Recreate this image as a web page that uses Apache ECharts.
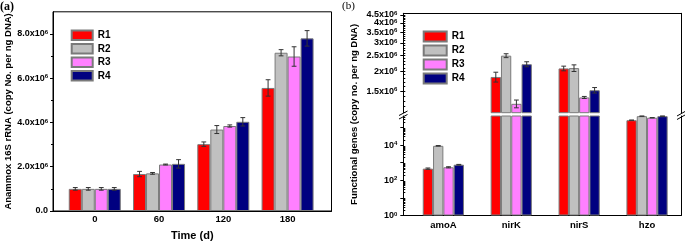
<!DOCTYPE html>
<html><head><meta charset="utf-8">
<script src="https://cdn.jsdelivr.net/npm/echarts@6/dist/echarts.min.js"></script>
<style>html,body{margin:0;padding:0;background:#fff}#c{width:685px;height:246px}</style>
</head><body><div id="c"></div>
<script>
// ---------- data: panel (a) ----------
const days = [0, 60, 120, 180];
const seriesNames = ['R1', 'R2', 'R3', 'R4'];
const anamR1 = [1.0e6, 1.67e6, 3.02e6, 5.56e6];
const anamR2 = [1.0e6, 1.70e6, 3.68e6, 7.15e6];
const anamR3 = [1.0e6, 2.10e6, 3.84e6, 6.98e6];
const anamR4 = [1.0e6, 2.13e6, 4.03e6, 7.80e6];
const anamErrR1 = [0.06e6, 0.12e6, 0.10e6, 0.37e6];
const anamErrR2 = [0.06e6, 0.04e6, 0.18e6, 0.14e6];
const anamErrR3 = [0.06e6, 0.02e6, 0.05e6, 0.44e6];
const anamErrR4 = [0.06e6, 0.19e6, 0.19e6, 0.35e6];
const anamTicks = [0, 2e6, 4e6, 6e6, 8e6];

// ---------- data: panel (b) ----------
const genes = ['amoA', 'nirK', 'nirS', 'hzo'];
const geneR1 = [460, 1.84e6, 2.08e6, 2.6e5];
const geneR2 = [9.1e3, 2.50e6, 2.09e6, 4.4e5];
const geneR3 = [550, 1.25e6, 1.37e6, 3.6e5];
const geneR4 = [770, 2.21e6, 1.52e6, 4.4e5];
const geneErrR1 = [40, 0.13e6, 0.07e6, 0];
const geneErrR2 = [300, 0.07e6, 0.10e6, 5e3];
const geneErrR3 = [40, 0.07e6, 0.02e6, 0];
const geneErrR4 = [30, 0.08e6, 0.06e6, 0];
const upperTicks = [1.5e6, 2e6, 2.5e6, 3e6, 3.5e6, 4e6, 4.5e6];
const lowerLabelTicks = [1, 100, 10000];
const lowerTicks = [1, 10, 100, 1000, 10000, 100000];

// ---------- styling / layout ----------
const F = 'Liberation Sans, Arial, sans-serif';
const colors = ['#ff0000', '#c0c0c0', '#ff80ff', '#000080'];
const borderCol = '#7a7a7a';
const lowerMin = 1, lowerMax = 4.5e5, upperMin = 1.1e6, upperMax = 4.6e6;
const barWA = 13, barWB = 10.3;

const upperMinor = [];
for (let k = 11; k <= 46; k++) upperMinor.push(k * 1e5);
const lowerMinor = [];
for (let e = 0; e <= 5; e++) for (let k = 2; k <= 9; k++) { const v = k * Math.pow(10, e); if (v <= lowerMax) lowerMinor.push(v); }

const rich = {
  n: { fontFamily: F, fontWeight: 'bold', fontSize: 9, color: '#000' },
  s: { fontFamily: F, fontWeight: 'bold', fontSize: 6, color: '#000', verticalAlign: 'top' }
};
const sup = (base, exp) => '{n|' + base + '}{s|' + exp + '}';
const trimNum = v => String(Math.round(v * 10) / 10);

const anamVals = [anamR1, anamR2, anamR3, anamR4];
const anamErrs = [anamErrR1, anamErrR2, anamErrR3, anamErrR4];
const geneVals = [geneR1, geneR2, geneR3, geneR4];
const geneErrs = [geneErrR1, geneErrR2, geneErrR3, geneErrR4];

function errSeries(points, xi, yi, k, barW) {
  return {
    type: 'custom', xAxisIndex: xi, yAxisIndex: yi, silent: true, z: 10,
    data: points,
    renderItem(params, api) {
      const x = api.value(0), v = api.value(1), e = api.value(2);
      const c0 = api.coord([x, v]);
      const cx = c0[0] + (k - 1.5) * barW;
      const top = api.coord([x, v + e])[1];
      const bot = api.coord([x, v - e])[1];
      const cap = 2.4;
      const st = { stroke: '#333', lineWidth: 1 };
      return { type: 'group', children: [
        { type: 'line', shape: { x1: cx, y1: top, x2: cx, y2: bot }, style: st },
        { type: 'line', shape: { x1: cx - cap, y1: top, x2: cx + cap, y2: top }, style: st },
        { type: 'line', shape: { x1: cx - cap, y1: bot, x2: cx + cap, y2: bot }, style: st }
      ] };
    }
  };
}

const series = [];
// panel (a)
seriesNames.forEach((nm, k) => {
  series.push({
    type: 'bar', name: nm, xAxisIndex: 0, yAxisIndex: 0,
    barWidth: barWA, barGap: '0%',
    itemStyle: { color: colors[k], borderColor: borderCol, borderWidth: 1 },
    data: days.map((d, i) => [d, anamVals[k][i]])
  });
});
seriesNames.forEach((nm, k) => {
  series.push(errSeries(days.map((d, i) => [d, anamVals[k][i], anamErrs[k][i]]), 0, 0, k, barWA));
});
// panel (b) lower (log, clipped) and upper (log) segments
seriesNames.forEach((nm, k) => {
  series.push({
    type: 'bar', name: nm, xAxisIndex: 1, yAxisIndex: 1, clip: true,
    barWidth: barWB, barGap: '0%',
    itemStyle: { color: colors[k], borderColor: borderCol, borderWidth: 1 },
    data: genes.map((g, i) => [i, geneVals[k][i]])
  });
  series.push({
    type: 'bar', name: nm, xAxisIndex: 2, yAxisIndex: 2, clip: true,
    barWidth: barWB, barGap: '0%',
    itemStyle: { color: colors[k], borderColor: borderCol, borderWidth: 1 },
    data: genes.map((g, i) => [i, geneVals[k][i] > lowerMax ? geneVals[k][i] : '-'])
  });
});
seriesNames.forEach((nm, k) => {
  const low = [], up = [];
  genes.forEach((g, i) => {
    const p = [i, geneVals[k][i], geneErrs[k][i]];
    if (geneVals[k][i] > lowerMax) up.push(p); else low.push(p);
  });
  series.push(errSeries(low, 1, 1, k, barWB));
  series.push(errSeries(up, 2, 2, k, barWB));
});

const blackLine = { show: true, onZero: false, lineStyle: { color: '#000', width: 1 } };
const noLine = { show: false, onZero: false };
const hidden = { show: false };

const option = {
  animation: false,
  backgroundColor: '#fff',
  grid: [
    { left: 53, top: 11.8, width: 278.5, height: 202.5, show: true, borderColor: '#000', borderWidth: 1 },
    { left: 403.3, top: 116, width: 277.7, height: 99.5 },
    { left: 403.3, top: 13.3, width: 277.7, height: 99.4 },
    { left: 403.3, top: 13.3, width: 277.7, height: 202.2 }
  ],
  xAxis: [
    { gridIndex: 0, type: 'value', min: -39, max: 221, position: 'bottom',
      axisLine: blackLine, axisTick: hidden, splitLine: hidden,
      axisLabel: { customValues: days, formatter: v => String(v), margin: 3,
        fontFamily: F, fontWeight: 'bold', fontSize: 9.5, color: '#000' },
      name: 'Time (d)', nameLocation: 'middle', nameGap: 19,
      nameTextStyle: { fontFamily: F, fontWeight: 'bold', fontSize: 11, color: '#000' } },
    { gridIndex: 1, type: 'value', min: -0.59, max: 3.5, position: 'bottom',
      axisLine: blackLine, axisTick: hidden, splitLine: hidden,
      axisLabel: { customValues: [0, 1, 2, 3], formatter: v => genes[Math.round(v)], margin: 5,
        fontFamily: F, fontWeight: 'bold', fontSize: 9.5, color: '#000' } },
    { gridIndex: 2, type: 'value', min: -0.59, max: 3.5, position: 'top',
      axisLine: blackLine, axisTick: hidden, splitLine: hidden, axisLabel: hidden },
    { gridIndex: 3, type: 'value', min: 0, max: 1, show: false }
  ],
  yAxis: [
    { gridIndex: 0, type: 'value', min: 0, max: 9e6, interval: 2e6, position: 'left',
      axisLine: blackLine,
      axisTick: { show: true, length: 3, customValues: anamTicks, lineStyle: { color: '#000' } },
      minorTick: { show: true, splitNumber: 2, length: 2, lineStyle: { color: '#000' } },
      splitLine: hidden,
      axisLabel: { customValues: anamTicks, margin: 5, rich: rich, showMinLabel: true, showMaxLabel: true,
        formatter: v => v === 0 ? '{n|0.0}' : sup((v / 1e6).toFixed(1) + 'x10', '6') },
      name: 'Anammox 16S rRNA (copy No. per ng DNA)', nameLocation: 'middle', nameGap: 36,
      nameTextStyle: { fontFamily: F, fontWeight: 'bold', fontSize: 9.5, color: '#000' } },
    { gridIndex: 1, type: 'log', logBase: 10, min: lowerMin, max: lowerMax, position: 'left',
      axisLine: blackLine,
      axisTick: { show: true, length: 3, customValues: lowerTicks, lineStyle: { color: '#000' } },
      splitLine: hidden,
      axisLabel: { customValues: lowerLabelTicks, margin: 6, rich: rich, showMinLabel: true, showMaxLabel: true,
        formatter: v => sup('10', String(Math.round(Math.log10(v)))) } },
    { gridIndex: 2, type: 'log', logBase: 10, min: upperMin, max: upperMax, position: 'left',
      axisLine: blackLine,
      axisTick: { show: true, length: 3, customValues: upperTicks, lineStyle: { color: '#000' } },
      splitLine: hidden,
      axisLabel: { customValues: upperTicks.concat([upperMax]), margin: 6, rich: rich,
        showMinLabel: true, showMaxLabel: false, hideOverlap: false,
        formatter: v => upperTicks.indexOf(v) < 0 ? '' : sup(trimNum(v / 1e6) + 'x10', '6') } },
    { gridIndex: 1, type: 'log', logBase: 10, min: lowerMin, max: lowerMax, position: 'left',
      axisLine: noLine, axisLabel: hidden, splitLine: hidden,
      axisTick: { show: true, inside: true, length: 2, customValues: lowerMinor, lineStyle: { color: '#000' } } },
    { gridIndex: 2, type: 'log', logBase: 10, min: upperMin, max: upperMax, position: 'left',
      axisLine: noLine, axisLabel: hidden, splitLine: hidden,
      axisTick: { show: true, inside: true, length: 2, customValues: upperMinor, lineStyle: { color: '#000' } } },
    { gridIndex: 1, type: 'value', min: 0, max: 1, position: 'right',
      axisLine: blackLine, axisTick: hidden, axisLabel: hidden, splitLine: hidden },
    { gridIndex: 2, type: 'value', min: 0, max: 1, position: 'right',
      axisLine: blackLine, axisTick: hidden, axisLabel: hidden, splitLine: hidden },
    { gridIndex: 3, type: 'value', min: 0, max: 1, position: 'left',
      axisLine: noLine, axisTick: hidden, axisLabel: hidden, splitLine: hidden,
      name: 'Functional genes (copy no. per ng DNA)', nameLocation: 'middle', nameGap: 44,
      nameTextStyle: { fontFamily: F, fontWeight: 'bold', fontSize: 9.5, color: '#000' } }
  ],
  legend: [
    { orient: 'vertical', left: 70.7, top: 29.5, padding: 0, itemWidth: 21, itemHeight: 9.5, itemGap: 2,
      icon: 'rect', selectedMode: false, data: seriesNames,
      textStyle: { fontFamily: F, fontWeight: 'bold', fontSize: 10, color: '#000' } },
    { orient: 'vertical', left: 422.7, top: 30.5, padding: 0, itemWidth: 23, itemHeight: 10, itemGap: 2,
      icon: 'rect', selectedMode: false, data: seriesNames,
      textStyle: { fontFamily: F, fontWeight: 'bold', fontSize: 10, color: '#000' } }
  ],
  graphic: [
    { type: 'text', left: 0, top: 1, style: { text: '(a)', font: 'bold 12px "Liberation Serif", serif', fill: '#000' } },
    { type: 'text', left: 342, top: 1, style: { text: '(b)', font: '11px "Liberation Serif", serif', fill: '#000' } },
    { type: 'line', shape: { x1: 399, y1: 115.5, x2: 407.5, y2: 111 }, style: { stroke: '#000', lineWidth: 1 } },
    { type: 'line', shape: { x1: 399, y1: 119, x2: 407.5, y2: 114.5 }, style: { stroke: '#000', lineWidth: 1 } },
    { type: 'line', shape: { x1: 677, y1: 116, x2: 685, y2: 111.5 }, style: { stroke: '#000', lineWidth: 1 } },
    { type: 'line', shape: { x1: 677, y1: 119.5, x2: 685, y2: 115 }, style: { stroke: '#000', lineWidth: 1 } }
  ],
  series: series
};

const chart = echarts.init(document.getElementById('c'));
chart.setOption(option);
</script>
</body></html>
